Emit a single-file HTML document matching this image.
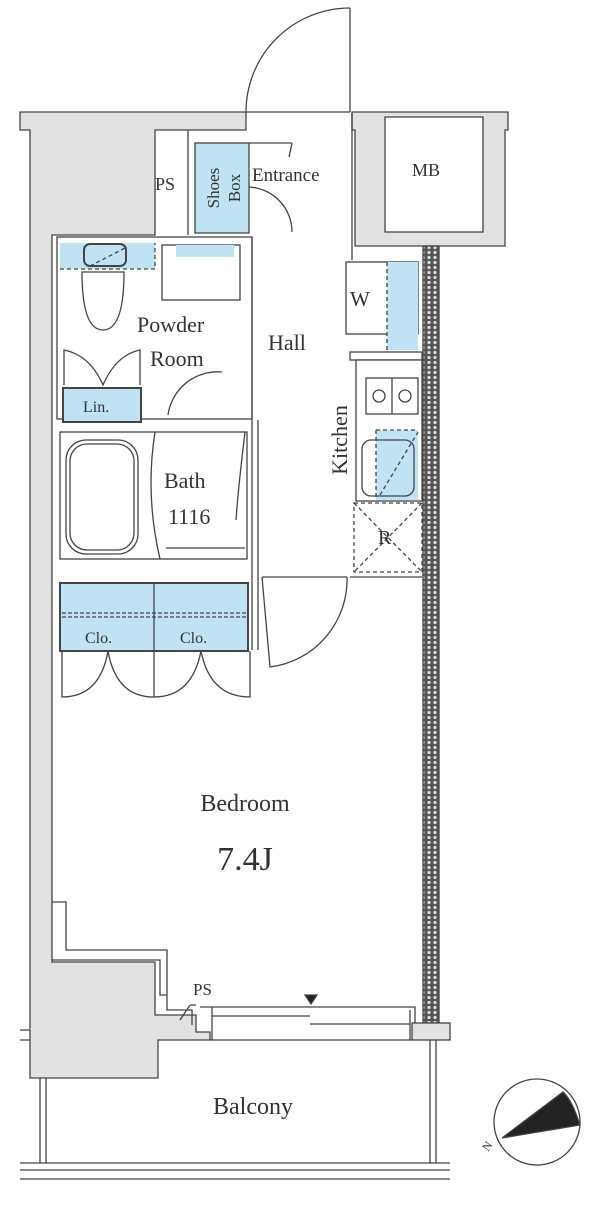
<!DOCTYPE html>
<html><head><meta charset="utf-8"><style>
html,body{margin:0;padding:0;background:#fff;width:600px;height:1211px;overflow:hidden}
svg{display:block}
text{font-family:"Liberation Serif",serif;fill:#333}
</style></head><body>
<svg width="600" height="1211" viewBox="0 0 600 1211" xmlns="http://www.w3.org/2000/svg">
<defs>
<pattern id="dots" width="6" height="5" patternUnits="userSpaceOnUse"><rect width="6" height="5" fill="#555"/><circle cx="3" cy="2.5" r="1.6" fill="#ddd"/></pattern>
</defs>
<g stroke="#444" stroke-width="1.3" fill="none">
<path d="M20 112 H246 V130 H155 V235 H52 V1030 H30 V130 H20 Z" fill="#e2e2e2"/>
<path d="M352 112 H508 V130 H505 V246 H355 V130 H352 Z" fill="#e2e2e2"/>
<rect x="385" y="117" width="98" height="115" fill="#fff"/>
<line x1="350" y1="8" x2="350" y2="112"/>
<path d="M246 112 A104 104 0 0 1 350 8"/>
<line x1="246" y1="112" x2="350" y2="112"/>
<line x1="352" y1="112" x2="352" y2="260"/>
<line x1="188" y1="130" x2="188" y2="235"/>
<rect x="195" y="143" width="54" height="90" fill="#bfe3f3"/>
<path d="M249 143 H292 M292 143 L289 157 M249 187 A45 45 0 0 1 292 232"/>
<rect x="423" y="246" width="16" height="780" fill="url(#dots)"/>
<rect x="346" y="262" width="72" height="72" fill="#fff"/>
<rect x="387" y="262" width="31" height="88" fill="#bfe3f3" stroke="none"/>
<line x1="387" y1="262" x2="387" y2="350" stroke-dasharray="4 3"/>
<rect x="350" y="352" width="72" height="8" fill="#fff"/>
<rect x="356" y="360" width="66" height="141" fill="#fff"/>
<rect x="366" y="378" width="52" height="36" fill="#fff"/>
<line x1="392" y1="378" x2="392" y2="414"/>
<circle cx="379" cy="396" r="6"/><circle cx="405" cy="396" r="6"/>
<rect x="376" y="430" width="42" height="70" fill="#bfe3f3" stroke="none"/>
<rect x="362" y="440" width="52" height="56" rx="9"/>
<path d="M376 430 V500 M376 430 H418 M380 495 L418 432" stroke-dasharray="4 3"/>
<rect x="354" y="503" width="68" height="69" stroke-dasharray="4 3"/>
<path d="M354 503 L422 572 M422 503 L354 572" stroke-dasharray="4 3"/>
<line x1="350" y1="577" x2="422" y2="577"/>
<rect x="57" y="237" width="195" height="182"/>
<rect x="60" y="243" width="95" height="26" fill="#bfe3f3" stroke="none"/>
<path d="M60 269 H155 V243 M90 266 L125 248" stroke-dasharray="4 3"/>
<rect x="84" y="244" width="42" height="22" rx="6" stroke-width="2"/>
<path d="M82 272 Q82 330 103 330 Q124 330 124 272 Z"/>
<rect x="162" y="245" width="78" height="55"/>
<rect x="176" y="245" width="58" height="12" fill="#bfe3f3" stroke="none"/>
<path d="M64 385 V350 Q90 355 103 385 Q116 355 140 350 V385"/>
<rect x="63" y="388" width="78" height="34" fill="#bfe3f3" stroke-width="2"/>
<path d="M168 415 A50 50 0 0 1 222 372"/>
<line x1="252" y1="237" x2="252" y2="650"/><line x1="258" y1="420" x2="258" y2="650"/>
<rect x="60" y="432" width="187" height="127"/>
<rect x="66" y="440" width="72" height="114" rx="20"/>
<rect x="70" y="444" width="64" height="106" rx="17"/>
<path d="M155 432 Q145 495 160 559 M245 432 Q238 490 236 520"/>
<line x1="166" y1="548" x2="245" y2="548"/>
<rect x="60" y="583" width="188" height="68" fill="#bfe3f3" stroke-width="2"/>
<line x1="154" y1="583" x2="154" y2="697"/>
<path d="M62 613 H246 M62 617 H246" stroke-dasharray="4 2"/>
<path d="M62 651 V697 Q100 697 108 651 Q116 697 154 697 Q192 697 201 651 Q210 697 250 697 V651"/>
<line x1="262" y1="577" x2="347" y2="577"/>
<path d="M262 577 L270 667 A88 88 0 0 0 347 577"/>
<path d="M52 902 H66 V950 H167 V995 H160 V960 H52" />
<path d="M30 1030 V1078 H158 V1040 H210 V1032 H196 V1015 H155 V962 H52" fill="#e2e2e2"/>
<path d="M20 1030 H30 M20 1040 H30 M167 995 V1010 H192 V1025"/>
<path d="M190 1005 L180 1020 M190 1005 H196"/>
<path d="M200 1007 H415 V1025"/>
<rect x="412" y="1023" width="38" height="17" fill="#e2e2e2"/>
<path d="M210 1040 H412 M212 1016 H310 M310 1024 H410 M212 1007 V1040 M410 1010 V1040"/>
<path d="M305 995 H317 L311 1004 Z" fill="#222"/>
<path d="M40 1078 V1163 M46 1078 V1163 M430 1040 V1163 M436 1040 V1163"/>
<path d="M20 1163 H450 M20 1170 H450 M20 1179 H450"/>
<circle cx="537" cy="1122" r="43"/>
<path d="M502 1138 L563 1092 Q572 1100 580 1125 Z" fill="#222"/>
</g>
<g font-size="21">
<text x="155" y="190" font-size="18">PS</text>
<text x="252" y="181" font-size="19">Entrance</text>
<text x="412" y="176" font-size="18">MB</text>
<text transform="translate(219,188) rotate(-90)" text-anchor="middle" font-size="17">Shoes</text>
<text transform="translate(240,188) rotate(-90)" text-anchor="middle" font-size="17">Box</text>
<text x="350" y="306">W</text>
<text x="137" y="332" font-size="22">Powder</text>
<text x="150" y="366" font-size="22">Room</text>
<text x="268" y="350" font-size="22">Hall</text>
<text x="83" y="412" font-size="16">Lin.</text>
<text transform="translate(347,440) rotate(-90)" text-anchor="middle" font-size="22">Kitchen</text>
<text x="378" y="544" font-size="20">R</text>
<text x="164" y="488" font-size="22">Bath</text>
<text x="168" y="524" font-size="22">1116</text>
<text x="85" y="643" font-size="16">Clo.</text>
<text x="180" y="643" font-size="16">Clo.</text>
<text x="245" y="811" text-anchor="middle" font-size="24">Bedroom</text>
<text x="245" y="870" text-anchor="middle" font-size="34">7.4J</text>
<text x="193" y="995" font-size="17">PS</text>
<text x="253" y="1114" text-anchor="middle" font-size="24">Balcony</text>
<text transform="translate(488,1152) rotate(-55)" font-size="12">N</text>
</g>
</svg>
</body></html>
